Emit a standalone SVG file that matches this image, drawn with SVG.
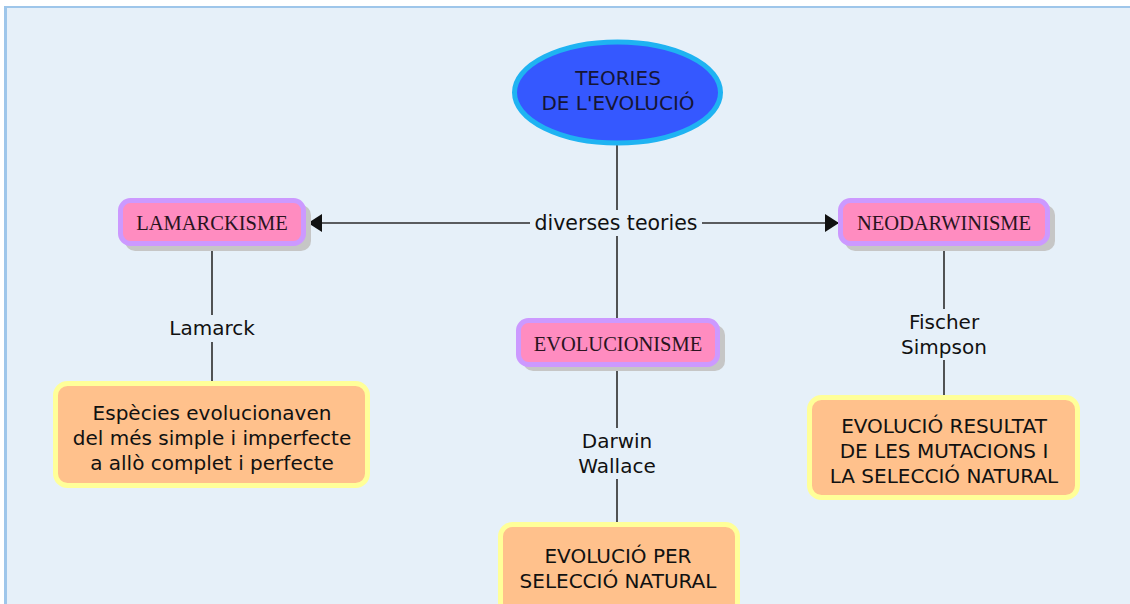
<svg xmlns="http://www.w3.org/2000/svg" width="1130" height="604" viewBox="0 0 1130 604">
<defs>
<style>
.lbl{font-family:"DejaVu Sans",Verdana,sans-serif;font-size:20px;fill:#111;text-anchor:middle}
.bt{font-family:"DejaVu Sans",Verdana,sans-serif;font-size:20px;fill:#111;text-anchor:middle}
.st{font-family:"Liberation Serif","Times New Roman",serif;font-size:20.5px;fill:#2a1420;text-anchor:middle}
.pink{fill:#FF8CC0;stroke:#CC99FF;stroke-width:5}
.shadow{fill:#c6c6c6}
.res{fill:#FFC18C;stroke:#FFFF99;stroke-width:5}
.ln{stroke:#2b2b2b;stroke-width:1.6;fill:none}
</style>
<marker id="ah" markerWidth="14" markerHeight="18" refX="13" refY="9" orient="auto" markerUnits="userSpaceOnUse">
<path d="M0,0 L14,9 L0,18 Z" fill="#111"/>
</marker>
</defs>
<rect x="0" y="0" width="1130" height="604" fill="#ffffff"/>
<rect x="6" y="7" width="1124" height="597" fill="#E6F0F9"/>
<rect x="4" y="6" width="1126" height="2" fill="#9EC6EA"/>
<rect x="4" y="6" width="3" height="598" fill="#9EC6EA"/>

<g id="connectors">
<line class="ln" x1="617" y1="145" x2="617" y2="210"/>
<line class="ln" x1="617" y1="236" x2="617" y2="318"/>
<line class="ln" x1="530" y1="223" x2="309" y2="223" marker-end="url(#ah)"/>
<line class="ln" x1="702" y1="223" x2="838" y2="223" marker-end="url(#ah)"/>
<text class="lbl" x="616" y="230" style="font-size:20.5px">diverses teories</text>
<line class="ln" x1="212" y1="248" x2="212" y2="315"/>
<line class="ln" x1="212" y1="342" x2="212" y2="381"/>
<text class="lbl" x="212" y="335">Lamarck</text>
<line class="ln" x1="944" y1="248" x2="944" y2="309"/>
<line class="ln" x1="944" y1="360" x2="944" y2="396"/>
<text class="lbl" x="944" y="329">Fischer</text>
<text class="lbl" x="944" y="354">Simpson</text>
<line class="ln" x1="617" y1="368" x2="617" y2="428"/>
<line class="ln" x1="617" y1="479" x2="617" y2="522"/>
<text class="lbl" x="617" y="448">Darwin</text>
<text class="lbl" x="617" y="473">Wallace</text>
</g>

<g id="teories">
<ellipse cx="617.5" cy="92.5" rx="103" ry="50.5" fill="#3558FF" stroke="#1FB3F2" stroke-width="5"/>
<text class="bt" x="618" y="85" style="fill:#151535">TEORIES</text>
<text class="bt" x="618" y="110" style="fill:#151535">DE L'EVOLUCIÓ</text>
</g>

<g id="lamarckisme">
<rect class="shadow" x="125" y="205" width="186" height="46" rx="10"/>
<rect class="pink" x="120.5" y="200.5" width="183" height="43" rx="10"/>
<text class="st" x="212" y="230">LAMARCKISME</text>
</g>

<g id="neodarwinisme">
<rect class="shadow" x="845" y="205" width="210" height="46" rx="10"/>
<rect class="pink" x="840.5" y="200.5" width="207" height="43" rx="10"/>
<text class="st" x="944" y="230">NEODARWINISME</text>
</g>

<g id="evolucionisme">
<rect class="shadow" x="523" y="325" width="202" height="46" rx="10"/>
<rect class="pink" x="518.5" y="320.5" width="199" height="44" rx="10"/>
<text class="st" x="618" y="351">EVOLUCIONISME</text>
</g>

<g id="lamarck-result">
<rect class="res" x="55.5" y="383.5" width="312" height="102" rx="12"/>
<text class="bt" x="212" y="420">Espècies evolucionaven</text>
<text class="bt" x="212" y="445">del més simple i imperfecte</text>
<text class="bt" x="212" y="470">a allò complet i perfecte</text>
</g>

<g id="neo-result">
<rect class="res" x="809.5" y="397.5" width="268" height="100" rx="12"/>
<text class="bt" x="944" y="433">EVOLUCIÓ RESULTAT</text>
<text class="bt" x="944" y="458">DE LES MUTACIONS I</text>
<text class="bt" x="944" y="483">LA SELECCIÓ NATURAL</text>
</g>

<g id="darwin-result">
<rect class="res" x="500.5" y="524.5" width="237" height="90" rx="12"/>
<text class="bt" x="618" y="563">EVOLUCIÓ PER</text>
<text class="bt" x="618" y="588">SELECCIÓ NATURAL</text>
</g>
</svg>
